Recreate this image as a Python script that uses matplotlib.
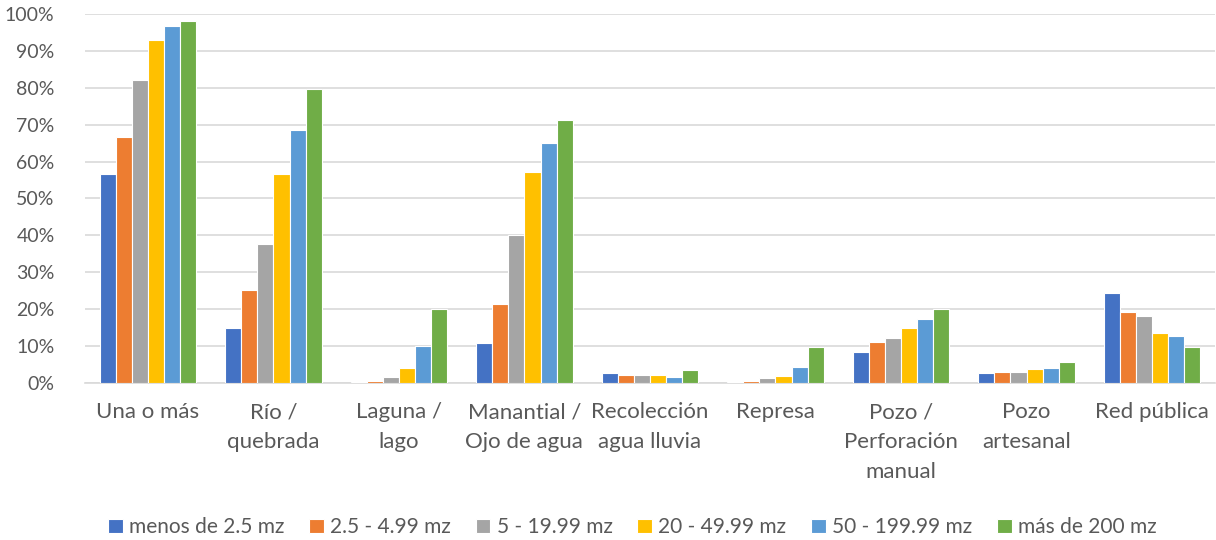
import numpy as np
import matplotlib.pyplot as plt
from matplotlib.ticker import PercentFormatter

plt.rcParams['font.family'] = ['Lato', 'DejaVu Sans']

categorias = ['Una o más', 'Río /\nquebrada', 'Laguna /\nlago', 'Manantial /\nOjo de agua',
              'Recolección\nagua lluvia', 'Represa', 'Pozo /\nPerforación\nmanual',
              'Pozo\nartesanal', 'Red pública']
series = ['menos de 2.5 mz', '2.5 - 4.99 mz', '5 - 19.99 mz',
          '20 - 49.99 mz', '50 - 199.99 mz', 'más de 200 mz']

menos_2_5 = [56.5, 14.9, 0.3, 10.8, 2.6, 0.1, 8.3, 2.6, 24.3]
de_2_5_a_5 = [66.6, 25.2, 0.6, 21.5, 2.1, 0.45, 11.0, 2.9, 19.3]
de_5_a_20 = [82.1, 37.6, 1.6, 40.2, 2.2, 1.2, 12.1, 3.0, 18.1]
de_20_a_50 = [92.9, 56.6, 3.9, 57.1, 2.0, 1.8, 14.9, 3.7, 13.5]
de_50_a_200 = [96.7, 68.5, 10.0, 64.9, 1.7, 4.3, 17.3, 4.1, 12.7]
mas_200 = [98.1, 79.6, 20.0, 71.2, 3.4, 9.6, 20.0, 5.7, 9.8]

valores = [menos_2_5, de_2_5_a_5, de_5_a_20, de_20_a_50, de_50_a_200, mas_200]
colores = ['#4472c4', '#ed7d31', '#a5a5a5', '#ffc000', '#5b9bd5', '#70ad47']

fig = plt.figure(figsize=(12.16, 5.4), dpi=100)
ax = fig.add_axes([0.07, 0.291, 0.929, 0.683])

x = np.arange(len(categorias))
ancho = 0.77 / 6
for i, (nombre, vals, c) in enumerate(zip(series, valores, colores)):
    ax.bar(x + (i - 2.5) * ancho, vals, ancho, color=c, edgecolor='white',
           linewidth=0.8, label=nombre, zorder=3)

ax.set_xlim(-0.5, len(categorias) - 0.5)
ax.set_ylim(0, 100)
ax.set_yticks(np.arange(0, 101, 10))
ax.yaxis.set_major_formatter(PercentFormatter(decimals=0))
ax.grid(axis='y', color='#d9d9d9', linewidth=1.2, zorder=0)
ax.set_xticks(x)
ax.set_xticklabels(categorias, linespacing=1.6)
ax.tick_params(axis='both', length=0, labelcolor='#595959')
ax.tick_params(axis='x', pad=14, labelsize=16)
ax.tick_params(axis='y', pad=22, labelsize=14)
for s in ['top', 'right', 'left']:
    ax.spines[s].set_visible(False)
ax.spines['bottom'].set_color('#d9d9d9')
ax.spines['bottom'].set_linewidth(1.2)

fig.legend(loc='lower center', ncol=6, frameon=False, fontsize=15,
           handlelength=0.7, handleheight=0.7, handletextpad=0.3,
           columnspacing=1.2, bbox_to_anchor=(0.52, -0.03), labelcolor='#595959')

plt.savefig('out.png', dpi=100)
